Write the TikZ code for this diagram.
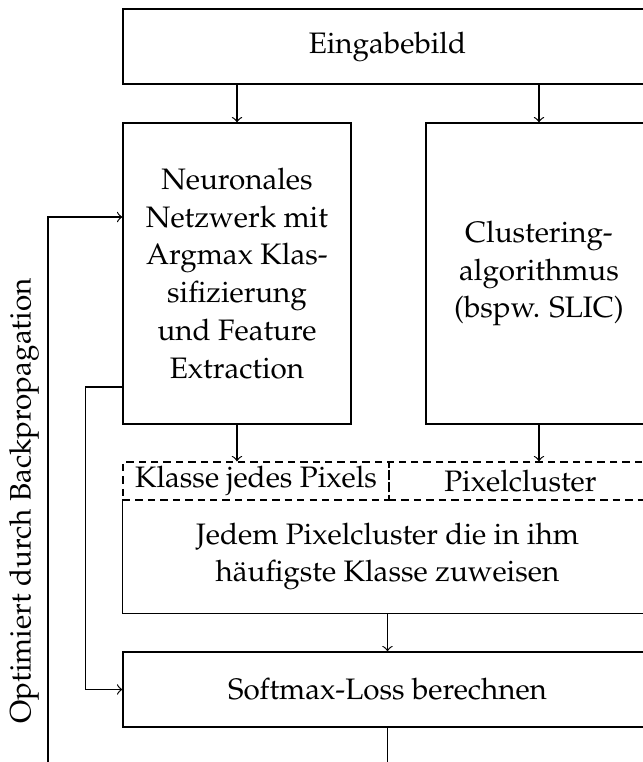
\documentclass[tikz,border=0pt]{standalone}
\usepackage[T1]{fontenc}
\usepackage{mathpazo}
\usetikzlibrary{positioning,calc}

\begin{document}
\begin{tikzpicture}[
    every node/.style={font=\fontsize{10pt}{12.8pt}\selectfont},
    box/.style={rectangle, draw, align=center, inner sep=2pt},
    dbox/.style={rectangle, draw, dash pattern=on 2.5pt off 1.7pt, align=center, inner sep=1pt},
]
\useasboundingbox (0,0) rectangle (7.635,-9.048);
\clip (0,0) rectangle (7.635,-9.048);

% Input
\node[box, minimum width=6.281cm, minimum height=0.891cm] (inp) at (4.601,-0.552) {Eingabebild};

% Network and clustering
\node[box, minimum width=2.707cm, minimum height=3.574cm] (nn) at (2.814,-3.248)
    {Neuronales\\Netzwerk mit\\Argmax Klas-\\sifizierung\\und Feature\\Extraction};
\node[box, minimum width=2.683cm, minimum height=3.574cm] (clu) at (6.400,-3.248)
    {Clustering-\\algorithmus\\(bspw. SLIC)};

% Intermediate results
\node[dbox, minimum width=3.158cm, minimum height=0.451cm] (kl) at (3.040,-5.711) {Klasse jedes Pixels};
\node[dbox, minimum width=3.123cm, minimum height=0.451cm] (px) at (6.180,-5.711) {Pixelcluster};

% Assignment
\node[box, draw=none, minimum width=6.281cm, minimum height=1.342cm] (main) at (4.601,-6.608)
    {Jedem Pixelcluster die in ihm\\häufigste Klasse zuweisen};
\draw (main.north west) -- (main.south west) -- (main.south east) -- (main.north east);

% Loss
\node[box, minimum width=6.281cm, minimum height=0.891cm] (soft) at (4.601,-8.187) {Softmax-Loss berechnen};

% Arrows
\draw[->] (nn.north |- inp.south) -- (nn.north);
\draw[->] (clu.north |- inp.south) -- (clu.north);
\draw[->] (nn.south) -- (nn.south |- kl.north);
\draw[->] (clu.south) -- (clu.south |- px.north);
\draw[->] (main.south) -- (soft.north);

% Backpropagation
\coordinate (bp) at (0.570,-9.5);
\draw[->] (soft.south) |- (bp) |- ([yshift=0.671cm]nn.west);
\draw[->] ([yshift=-1.348cm]nn.west) -- ++(-0.440,0) |- (soft.west);
\node[rotate=90] (bplabel) at (0.285,-5.949) {Optimiert durch Backpropagation};

\end{tikzpicture}
\end{document}
